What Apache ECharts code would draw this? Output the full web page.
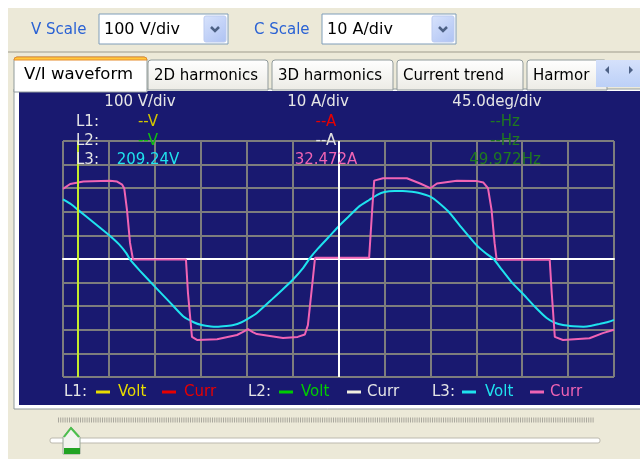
<!DOCTYPE html>
<html>
<head>
<meta charset="utf-8">
<script src="https://cdn.jsdelivr.net/npm/echarts@6/dist/echarts.min.js"></script>
<style>
html, body { margin: 0; padding: 0; background: #fff; }
#main { width: 640px; height: 459px; }
</style>
</head>
<body>
<div id="main"></div>
<script>
// L3 voltage, phase angle in degrees and volts
const voltDeg = [0, 8, 15, 30, 45, 55, 62, 66, 75, 90, 105, 118, 128, 136, 145, 151, 160, 167, 175, 181,
  190, 205, 215, 225, 235, 242, 250, 262, 270, 280, 290, 300, 308, 315, 325, 333, 342, 348, 355, 360,
  367, 378, 390, 405, 415, 422, 430, 440, 450, 462, 474, 482, 490, 500, 510, 518, 526, 534, 540];
const voltVal = [253, 232, 207, 155, 102, 62, 25, -4, -48, -117, -185, -244, -268, -280, -286, -287, -284, -280, -268, -254,
  -229, -170, -130, -89, -40, 4, 45, 100, 138, 180, 222, 250, 272, 284, 288, 288, 285, 281, 272, 264,
  243, 200, 136, 60, 22, 0, -45, -100, -144, -200, -250, -270, -280, -285, -287, -283, -275, -267, -258];

// L3 current, degrees and amps
const currDeg = [0, 7, 20, 46, 53, 58, 60, 62.7, 65.7, 68.6, 120.5, 122.5, 126.4, 131.3, 151, 170.5, 176, 181.3, 186, 190,
  215.6, 230, 237, 240, 244, 247, 300, 303, 305, 313.6, 337, 350, 360, 366.5, 386, 405.7, 412, 416.5, 420, 423,
  425, 477, 479, 482, 490, 516, 529, 540];
const currVal = [29.7, 31.8, 32.8, 33.2, 32.8, 31.5, 30, 20.8, 6.8, -0.2, -0.2, -14.5, -33, -34.3, -34, -32.2, -31, -29.7, -31, -31.8,
  -33.5, -33, -32, -28, -11.9, 0.5, 0.5, 20.8, 33.2, 34.2, 34.2, 32, 30, 32, 33.2, 33, 32.4, 30, 20.8, 6.7,
  -0.3, -0.3, -14.5, -33, -34.3, -33.6, -31.4, -30];

const cursorDeg = 14.7;   // readout cursor
const centerDeg = 270;

const headerTexts = ['100 V/div', '10 A/div', '45.0deg/div'];
const rowLabels = ['L1:', 'L2:', 'L3:'];
const voltReadings = ['--V', '--V', '209.24V'];
const currReadings = ['--A', '--A', '32.472A'];
const freqReadings = ['--Hz', '--Hz', '49.972Hz'];
const tabNames = ['V/I waveform', '2D harmonics', '3D harmonics', 'Current trend', 'Harmor'];

const F = 'DejaVu Sans';
const navy = '#191970';
const gridGray = '#7d7d7d';
const cyan = '#1fe3ee';
const pink = '#f064b4';

const voltData = voltDeg.map((d, i) => [d, voltVal[i]]);
const currData = currDeg.map((d, i) => [d, currVal[i]]);

function txt(x, y, text, color, size, align) {
  return { type: 'text', x: x, y: y, z: 50,
    style: { text: text, fill: color, font: (size || 15) + 'px "' + F + '"',
      textAlign: align || 'left', textVerticalAlign: 'middle' } };
}
function dash(x, y, color) {
  return { type: 'rect', z: 50, shape: { x: x, y: y - 1.5, width: 14, height: 3 }, style: { fill: color } };
}
function combo(x, w, label) {
  return [
    { type: 'rect', z: 5, shape: { x: x, y: 14, width: w, height: 30 }, style: { fill: '#fff', stroke: '#7f9db9', lineWidth: 1 } },
    txt(x + 5, 30, label, '#000', 16),
    { type: 'rect', z: 6, shape: { x: x + w - 24, y: 16, width: 22, height: 26, r: 2 },
      style: { fill: new echarts.graphic.LinearGradient(0, 0, 1, 1, [{ offset: 0, color: '#d8e3fc' }, { offset: 1, color: '#aec2f3' }]), stroke: '#bccbf0' } },
    { type: 'polyline', z: 7, shape: { points: [[x + w - 17, 27], [x + w - 13, 31], [x + w - 9, 27]] },
      style: { stroke: '#4d6185', lineWidth: 2.5, fill: null } }
  ];
}

const tabs = [
  { x: 148, w: 120 }, { x: 272, w: 121 }, { x: 397, w: 126 }, { x: 527, w: 80 }
];

const graphics = [
  { type: 'rect', z: -20, shape: { x: 8, y: 8, width: 640, height: 460 }, style: { fill: '#ece9d8' } },
  txt(31, 30, 'V Scale', '#2a62d4', 15),
  txt(254, 30, 'C Scale', '#2a62d4', 15),
  ...combo(99, 129, '100 V/div'),
  ...combo(322, 134, '10 A/div'),
  { type: 'line', z: -15, shape: { x1: 8, y1: 52, x2: 640, y2: 52 }, style: { stroke: '#c5c2b2', lineWidth: 2 } },
  // tab page frame
  { type: 'rect', z: -12, shape: { x: 14, y: 89, width: 640, height: 320 }, style: { fill: '#fff', stroke: '#919b9c', lineWidth: 1 } },
  { type: 'rect', z: -10, shape: { x: 19, y: 91, width: 630, height: 314 }, style: { fill: navy } },
];
tabs.forEach((t, i) => {
  graphics.push({ type: 'rect', z: -11, shape: { x: t.x, y: 60, width: t.w, height: 30, r: [3, 3, 0, 0] },
    style: { fill: new echarts.graphic.LinearGradient(0, 0, 0, 1, [{ offset: 0, color: '#ffffff' }, { offset: 1, color: '#ecebe5' }]), stroke: '#919b9c' } });
  graphics.push(txt(t.x + 6, 76, tabNames[i + 1], '#000', 15));
});
graphics.push(
  { type: 'rect', z: -9, shape: { x: 14, y: 57, width: 133, height: 35, r: [3, 3, 0, 0] }, style: { fill: '#fff', stroke: '#919b9c' } },
  { type: 'rect', z: -8, shape: { x: 14, y: 57, width: 133, height: 3, r: [3, 3, 0, 0] }, style: { fill: '#ffc83c', stroke: '#e68b2c', lineWidth: 1 } },
  txt(24, 75, tabNames[0], '#000', 16.5),
  { type: 'rect', z: 8, shape: { x: 596, y: 60, width: 44, height: 27 },
    style: { fill: new echarts.graphic.LinearGradient(0, 0, 0, 1, [{ offset: 0, color: '#d5e1fb' }, { offset: 1, color: '#bcd0f7' }]) } },
  { type: 'polygon', z: 9, shape: { points: [[605, 70], [609, 66], [609, 74]] }, style: { fill: '#4d6185' } },
  { type: 'polygon', z: 9, shape: { points: [[633, 70], [629, 66], [629, 74]] }, style: { fill: '#4d6185' } }
);
// readout block
const colX = [148, 326, 505];
headerTexts.forEach((h, i) => graphics.push(txt(colX[i] - 8, 102, h, '#e6e6e6', 15, 'center')));
const rowY = [122, 141, 160];
const vCols = ['#d2c600', '#10c010', cyan];
const aCols = ['#e80000', '#e0e0e0', pink];
rowLabels.forEach((l, i) => {
  graphics.push(txt(76, rowY[i], l, '#e6e6e6', 15));
  graphics.push(txt(colX[0], rowY[i], voltReadings[i], vCols[i], 15, 'center'));
  graphics.push(txt(colX[1], rowY[i], currReadings[i], aCols[i], 15, 'center'));
  graphics.push(txt(colX[2], rowY[i], freqReadings[i], '#1f7a1f', 15, 'center'));
});
// legend row
graphics.push(
  txt(64, 392, 'L1:', '#e6e6e6'), dash(96, 392, '#e8dc00'), txt(118, 392, 'Volt', '#e8dc00'),
  dash(162, 392, '#e80000'), txt(184, 392, 'Curr', '#e80000'),
  txt(248, 392, 'L2:', '#e6e6e6'), dash(279, 392, '#00cc00'), txt(301, 392, 'Volt', '#00cc00'),
  dash(347, 392, '#f2f0e0'), txt(367, 392, 'Curr', '#e6e6e6'),
  txt(432, 392, 'L3:', '#e6e6e6'), dash(462, 392, cyan), txt(485, 392, 'Volt', cyan),
  dash(530, 392, pink), txt(550, 392, 'Curr', pink)
);
// slider
graphics.push(
  { type: 'line', z: 5, shape: { x1: 58, y1: 420, x2: 594, y2: 420 }, style: { stroke: '#a8a69c', lineWidth: 5, lineDash: [1, 1.2] } },
  { type: 'rect', z: 5, shape: { x: 50, y: 438, width: 550, height: 5, r: 2 }, style: { fill: '#fff', stroke: '#bcb9ae' } },
  { type: 'polygon', z: 6, shape: { points: [[63, 437], [71, 427], [80, 437], [80, 454], [63, 454]] }, style: { fill: '#f3f3ef', stroke: '#98a898' } },
  { type: 'polyline', z: 7, shape: { points: [[64, 437], [71, 428], [79, 437]] }, style: { stroke: '#4cc04c', lineWidth: 2, fill: null } },
  { type: 'rect', z: 7, shape: { x: 64, y: 448, width: 16, height: 6 }, style: { fill: '#22a322' } }
);

const chart = echarts.init(document.getElementById('main'));
chart.setOption({
  animation: false,
  backgroundColor: '#fff',
  grid: { left: 63, top: 141, width: 551, height: 236, containLabel: false },
  xAxis: {
    type: 'value', min: 0, max: 540, interval: 45,
    axisLine: { show: true, onZero: true, lineStyle: { color: '#fff', width: 2 } },
    axisTick: { show: false }, axisLabel: { show: false },
    splitLine: { show: true, lineStyle: { color: gridGray, width: 2 } }
  },
  yAxis: [
    { type: 'value', min: -500, max: 500, interval: 100,
      axisLine: { show: false }, axisTick: { show: false }, axisLabel: { show: false },
      splitLine: { show: true, lineStyle: { color: gridGray, width: 2 } } },
    { type: 'value', min: -50, max: 50, interval: 10, show: false, splitLine: { show: false } }
  ],
  graphic: graphics,
  series: [
    { name: 'L3 Volt', type: 'line', data: voltData, yAxisIndex: 0, showSymbol: false, z: 3,
      smooth: 0.15,
      lineStyle: { color: cyan, width: 2 },
      markLine: { silent: true, symbol: 'none', label: { show: false },
        data: [
          { xAxis: centerDeg, lineStyle: { color: '#fff', width: 2, type: 'solid' } },
          { xAxis: cursorDeg, lineStyle: { color: '#c4ec2c', width: 2, type: 'solid' } }
        ] } },
    { name: 'L3 Curr', type: 'line', data: currData, yAxisIndex: 1, showSymbol: false, z: 4,
      lineStyle: { color: pink, width: 2 } }
  ]
});
</script>
</body>
</html>
